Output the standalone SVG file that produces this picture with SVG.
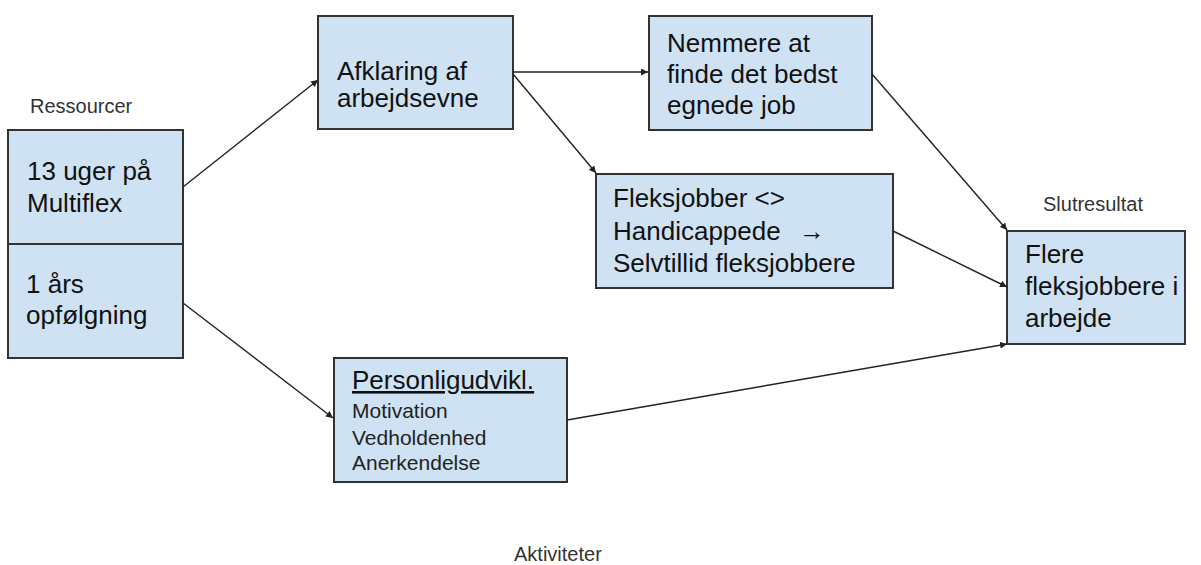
<svg xmlns="http://www.w3.org/2000/svg" width="1201" height="565" viewBox="0 0 1201 565">
<defs>
<style>
.box{fill:#cfe2f3;stroke:#333;stroke-width:2}
.t{font-family:"Liberation Sans",Arial,sans-serif;font-size:26px;fill:#111}
.s{font-family:"Liberation Sans",Arial,sans-serif;font-size:21px;fill:#222}
.lbl{font-family:"Liberation Sans",Arial,sans-serif;font-size:20px;fill:#333}
.c{fill:none;stroke:#222;stroke-width:1.4;marker-end:url(#ah)}
</style>
<marker id="ah" viewBox="0 0 10 10" refX="10" refY="5" markerWidth="7" markerHeight="7" markerUnits="userSpaceOnUse" orient="auto">
<path d="M0,0 L10,5 L0,10 z" fill="#222"/>
</marker>
</defs>
<rect width="1201" height="565" fill="#fff"/>
<g id="labels">
<text class="lbl" x="30" y="113">Ressourcer</text>
<text class="lbl" x="1043" y="211">Slutresultat</text>
<text class="lbl" x="514" y="561">Aktiviteter</text>
</g>
<g id="ressourcer">
<rect class="box" x="8" y="130" width="175" height="228"/>
<line x1="8" y1="244" x2="183" y2="244" stroke="#333" stroke-width="2"/>
<text class="t" x="27" y="180">13 uger på</text>
<text class="t" x="27" y="212">Multiflex</text>
<text class="t" x="26" y="293">1 års</text>
<text class="t" x="26" y="324">opfølgning</text>
</g>
<g id="afklaring">
<rect class="box" x="318" y="16" width="195" height="113"/>
<text class="t" x="337" y="80">Afklaring af</text>
<text class="t" x="337" y="107">arbejdsevne</text>
</g>
<g id="nemmere">
<rect class="box" x="649" y="16" width="223" height="114"/>
<text class="t" x="667" y="52">Nemmere at</text>
<text class="t" x="667" y="83">finde det bedst</text>
<text class="t" x="667" y="114">egnede job</text>
</g>
<g id="fleksjobber">
<rect class="box" x="596" y="174" width="297" height="114"/>
<text class="t" x="613" y="207">Fleksjobber &lt;&gt;</text>
<text class="t" x="613" y="240">Handicappede</text>
<text class="t" x="799" y="240">→</text>
<text class="t" x="613" y="272">Selvtillid fleksjobbere</text>
</g>
<g id="personlig">
<rect class="box" x="334" y="358" width="233" height="124"/>
<text class="t" x="352" y="389" text-decoration="underline">Personligudvikl.</text>
<text class="s" x="352" y="418">Motivation</text>
<text class="s" x="352" y="445">Vedholdenhed</text>
<text class="s" x="352" y="470">Anerkendelse</text>
</g>
<g id="flere">
<rect class="box" x="1007" y="231" width="178" height="113"/>
<text class="t" x="1025" y="263">Flere</text>
<text class="t" x="1025" y="295">fleksjobbere i</text>
<text class="t" x="1025" y="327">arbejde</text>
</g>
<g id="connectors">
<line class="c" x1="183" y1="187" x2="318" y2="80"/>
<line class="c" x1="513" y1="72" x2="648" y2="72"/>
<line class="c" x1="513" y1="74" x2="596" y2="173"/>
<line class="c" x1="872" y1="74" x2="1007" y2="230"/>
<line class="c" x1="893" y1="231" x2="1007" y2="287"/>
<line class="c" x1="183" y1="303" x2="333" y2="418"/>
<line class="c" x1="567" y1="420" x2="1007" y2="344"/>
</g>
</svg>
